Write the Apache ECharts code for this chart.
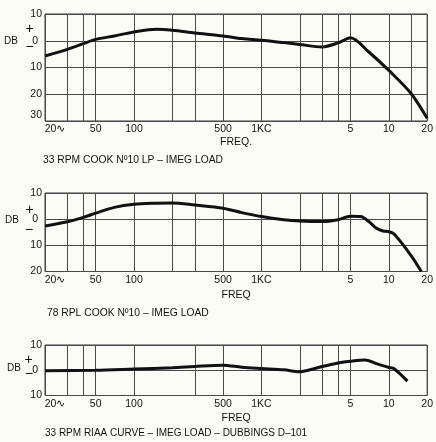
<!DOCTYPE html>
<html>
<head>
<meta charset="utf-8">
<script src="https://cdn.jsdelivr.net/npm/echarts@6/dist/echarts.min.js"></script>
<style>
  html, body { margin: 0; padding: 0; background: #fcfcf7; }
  #chart { width: 436px; height: 442px; }
</style>
</head>
<body>
<div id="chart"></div>
<script>
// response curves, frequency in Hz / level in dB
const freq1 = [20, 30, 40, 50, 70, 100, 150, 200, 300, 500, 700, 1000, 1500, 2000, 3000, 4000, 5000, 7000, 10000, 15000, 20000];
const db1 = [-5.7, -3.2, -1.1, 0.5, 1.8, 3.3, 4.3, 3.9, 2.9, 1.8, 0.8, 0.2, -0.7, -1.4, -2.3, -0.8, 1.1, -4.3, -11.1, -19.8, -29];

const freq2 = [20, 30, 40, 50, 70, 100, 150, 200, 300, 500, 700, 1000, 1500, 2000, 3000, 4000, 5000, 6000, 7000, 8000, 9000, 10000, 11000, 15000, 18000];
const db2 = [-2.6, -1.0, 0.7, 2.3, 4.5, 5.7, 6.1, 6.2, 5.4, 4.2, 2.5, 1.0, -0.2, -0.7, -0.9, -0.2, 1.1, 1.0, -1.0, -3.5, -4.5, -4.8, -5.7, -14, -20];

const freq3 = [20, 50, 100, 200, 300, 500, 700, 1000, 1500, 2000, 2500, 3000, 4000, 5000, 6500, 8000, 10000, 11000, 14000];
const db3 = [-0.2, 0, 0.5, 1.0, 1.5, 2.0, 1.2, 0.7, 0.2, -0.6, 0.4, 1.5, 2.9, 3.6, 4.1, 2.6, 1.1, 0.6, -4.3];

// vertical rulings of each sheet
const rules1 = [20, 30, 40, 50, 100, 200, 300, 500, 1000, 2000, 3000, 4000, 5000, 10000, 15000, 20000];
const rules2 = [20, 30, 40, 50, 100, 200, 300, 500, 1000, 2000, 3000, 4000, 5000, 10000, 20000];
const rules3 = [20, 30, 40, 50, 100, 300, 500, 1000, 2000, 3000, 4000, 5000, 10000, 20000];

const tickFreqs = [20, 50, 100, 500, 1000, 5000, 10000, 20000];
const tickTexts = ['20∿', '50', '100', '500', '1KC', '5', '10', '20'];

const captions = [
  '33 RPM COOK Nº10 LP – IMEG LOAD',
  '78 RPL COOK Nº10 – IMEG LOAD',
  '33 RPM RIAA CURVE – IMEG LOAD – DUBBINGS D–101'
];

const FONT = '"Liberation Sans", Arial, sans-serif';
const INK = '#111111';
const RULE = '#4a4a4a';
const lg = Math.log10;

const chart = echarts.init(document.getElementById('chart'));

const grids = [
  { left: 45, top: 14, width: 388, height: 107 },
  { left: 45, top: 193, width: 388, height: 78.5 },
  { left: 45, top: 345, width: 388, height: 50.5 }
];

const makeX = (i, rules, name, gap) => ({
  type: 'value',
  gridIndex: i,
  min: lg(20),
  max: lg(20000),
  axisLine: { show: false },
  axisTick: { show: false, customValues: rules.map(lg) },
  splitLine: { show: true, lineStyle: { color: RULE, width: 1 } },
  axisLabel: {
    customValues: tickFreqs.map(lg),
    margin: 3,
    color: INK,
    fontFamily: FONT,
    fontSize: 10.5,
    formatter: (v) => {
      let k = tickFreqs.findIndex((f) => Math.abs(lg(f) - v) < 1e-6);
      if (k === 0) return '{first|' + tickTexts[0] + '}';
      return k >= 0 ? tickTexts[k] : '';
    },
    rich: { first: { padding: [0, 0, 0, 20], fontFamily: FONT, fontSize: 10.5, color: INK } }
  },
  name: name,
  nameLocation: 'middle',
  nameGap: gap,
  nameTextStyle: { color: INK, fontFamily: FONT, fontSize: 10.5 }
});

const makeY = (i, min, bottomLabel) => ({
  type: 'value',
  gridIndex: i,
  min: min,
  max: 10,
  interval: 10,
  axisLine: { show: false },
  axisTick: { show: false },
  splitLine: { show: true, lineStyle: { color: RULE, width: 1 } },
  axisLabel: {
    margin: 3,
    color: INK,
    fontFamily: FONT,
    fontSize: 10.5,
    verticalAlignMinLabel: bottomLabel ? 'bottom' : 'middle',
    formatter: (v) => (v === 0 ? '{z|0}' : String(Math.abs(v))),
    rich: { z: { padding: [0, 4, 0, 0], fontFamily: FONT, fontSize: 10.5, color: INK } }
  }
});

const makeSeries = (i, freq, db) => ({
  type: 'line',
  xAxisIndex: i,
  yAxisIndex: i,
  data: freq.map((f, k) => [lg(f), db[k]]),
  showSymbol: false,
  smooth: 0.3,
  lineStyle: { color: INK, width: 3 }
});

const txt = (x, y, text, size, align) => ({
  type: 'text',
  x: x,
  y: y,
  style: {
    text: text,
    fill: INK,
    font: size + 'px ' + FONT,
    align: align || 'center',
    verticalAlign: 'middle'
  }
});

const option = {
  backgroundColor: '#fcfcf7',
  animation: false,
  grid: grids.map((g) => Object.assign({ show: true, borderColor: '#3a3a3a', borderWidth: 1 }, g)),
  xAxis: [
    makeX(0, rules1, 'FREQ.', 15.5),
    makeX(1, rules2, 'FREQ', 18.5),
    makeX(2, rules3, 'FREQ', 17)
  ],
  yAxis: [
    makeY(0, -30, true),
    makeY(1, -20, false),
    makeY(2, -10, false)
  ],
  series: [
    makeSeries(0, freq1, db1),
    makeSeries(1, freq2, db2),
    makeSeries(2, freq3, db3)
  ],
  graphic: [
    txt(11, 41, 'DB', 10),
    txt(29.5, 29, '+', 14),
    txt(29.5, 47, '−', 14),
    txt(12, 220.5, 'DB', 10),
    txt(29.5, 210, '+', 14),
    txt(29, 230.5, '−', 14),
    txt(14, 368, 'DB', 10),
    txt(28.5, 360, '+', 14),
    txt(29, 374.5, '−', 14),
    txt(43, 160, captions[0], 10.3, 'left'),
    txt(47, 313.5, captions[1], 10.3, 'left'),
    txt(45, 433, captions[2], 10, 'left')
  ]
};

chart.setOption(option);
</script>
</body>
</html>
